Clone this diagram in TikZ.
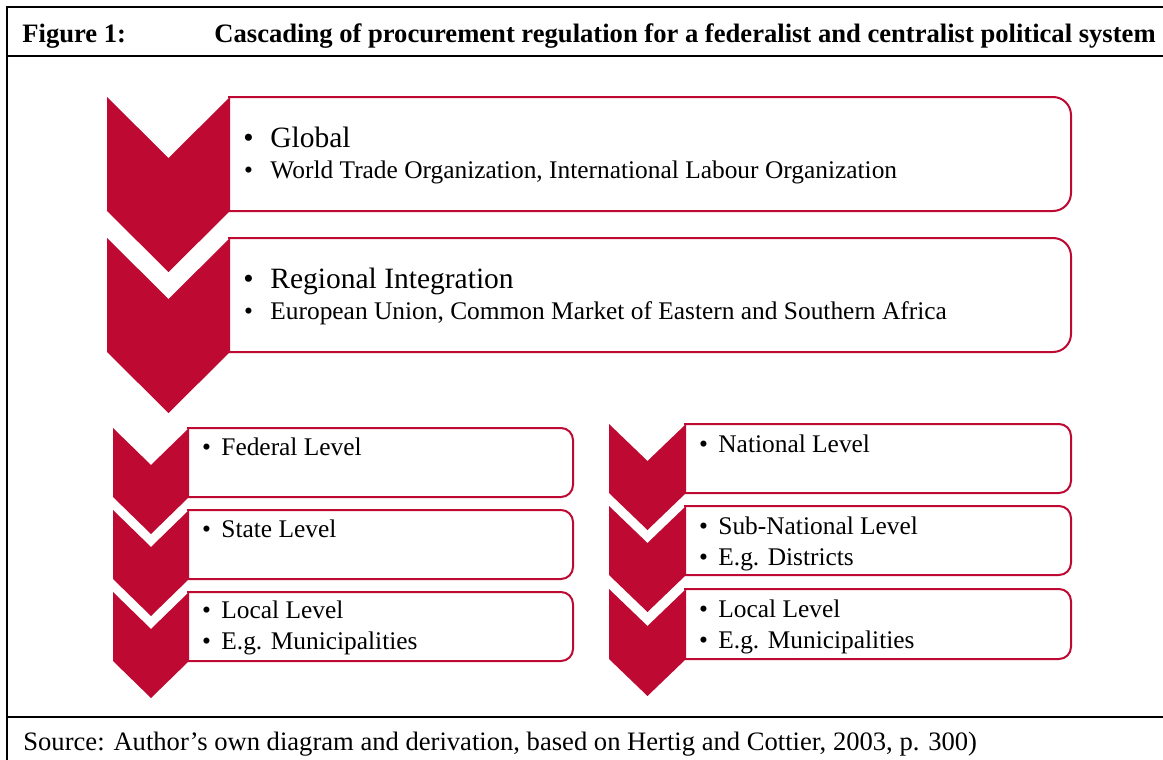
\documentclass[tikz,border=0pt]{standalone}
\usepackage{fontspec}
\setmainfont{Liberation Serif}
\usetikzlibrary{positioning}
\definecolor{crimson}{RGB}{190,10,50}
\tikzset{
    chev/.style={fill=crimson, draw=none},
    bigbox/.style={draw=crimson, line width=1pt, rounded corners=9pt},
    smallbox/.style={draw=crimson, line width=1pt, rounded corners=6pt},
    frameline/.style={line width=1.3pt, black},
    headtxt/.style={anchor=base west, inner sep=0pt, font=\fontsize{13.3}{16}\selectfont\bfseries},
    srctxt/.style={anchor=base west, inner sep=0pt, font=\fontsize{13.3}{16}\selectfont},
    bigtxt/.style={anchor=base west, inner sep=0pt, font=\fontsize{14.75}{17}\selectfont},
    subtxt/.style={anchor=base west, inner sep=0pt, font=\fontsize{12.7}{15}\selectfont}
}

\begin{document}
\begin{tikzpicture}[x=0.5pt, y=-0.5pt]
    \useasboundingbox (0,0) rectangle (1163,760);
    % frame
    \draw[frameline] (1163,7) -- (7,7) -- (7,760);
    \draw[frameline] (7,56) -- (1163,56);
    \draw[frameline] (7,717) -- (1163,717);
    \node[headtxt] (fig) at (22,42) {Figure 1:};
    \node[headtxt] (cap) at (214,42) {Cascading of procurement regulation for a federalist and centralist political system};
    \node[srctxt] (src) at (23,750) {Source: Author’s own diagram and derivation, based on Hertig and Cottier, 2003, p. 300)};
    % boxes
    \foreach \ya/\yb in {97/211, 238/352}{
        \draw[bigbox] (228,\ya) -- (1071,\ya) -- (1071,\yb) -- (228,\yb);}
    \foreach \xl/\xr/\ya/\yb in {187/573/428/497, 187/573/510/579, 187/573/592/661,
                                 684/1071/424/493, 684/1071/506/575, 684/1071/589/659}{
        \draw[smallbox] (\xl,\ya) -- (\xr,\ya) -- (\xr,\yb) -- (\xl,\yb);}
    % chevrons
    \foreach \xl/\xr/\ya/\yb/\d in {107/230/97/211/61, 107/230/238/352/61,
                                    113/189/428/497/37, 113/189/510/579/37, 113/189/592/661/37,
                                    609/686/424/493/37, 609/686/506/575/37, 609/686/589/659/37}{
        \fill[chev] (\xl,\ya) -- ({(\xl+\xr)/2},\ya+\d) -- (\xr,\ya) -- (\xr,\yb)
            -- ({(\xl+\xr)/2},\yb+\d) -- (\xl,\yb) -- cycle;}
    % texts
    \node[bigtxt] (gl) at (243,147) {\makebox[13.5pt][l]{\textbullet}Global};
    \node[subtxt] (wto) at (243.6,178) {\makebox[13.2pt][l]{\textbullet}World Trade Organization, International Labour Organization};
    \node[bigtxt] (rg) at (243,288) {\makebox[13.5pt][l]{\textbullet}Regional Integration};
    \node[subtxt] (eu) at (243.6,319) {\makebox[13.2pt][l]{\textbullet}European Union, Common Market of Eastern and Southern Africa};
    \node[subtxt] (fed) at (201.6,455) {\makebox[9.7pt][l]{\textbullet}Federal Level};
    \node[subtxt] (sta) at (201.6,537) {\makebox[9.7pt][l]{\textbullet}State Level};
    \node[subtxt] (loa) at (201.6,618) {\makebox[9.7pt][l]{\textbullet}Local Level};
    \node[subtxt] (mua) at (201.6,649) {\makebox[9.7pt][l]{\textbullet}E.g. Municipalities};
    \node[subtxt] (nat) at (698.6,452) {\makebox[9.7pt][l]{\textbullet}National Level};
    \node[subtxt] (sub) at (698.6,534) {\makebox[9.7pt][l]{\textbullet}Sub-National Level};
    \node[subtxt] (dis) at (698.6,565) {\makebox[9.7pt][l]{\textbullet}E.g. Districts};
    \node[subtxt] (lob) at (698.6,617) {\makebox[9.7pt][l]{\textbullet}Local Level};
    \node[subtxt] (mub) at (698.6,648) {\makebox[9.7pt][l]{\textbullet}E.g. Municipalities};
\end{tikzpicture}
\end{document}
